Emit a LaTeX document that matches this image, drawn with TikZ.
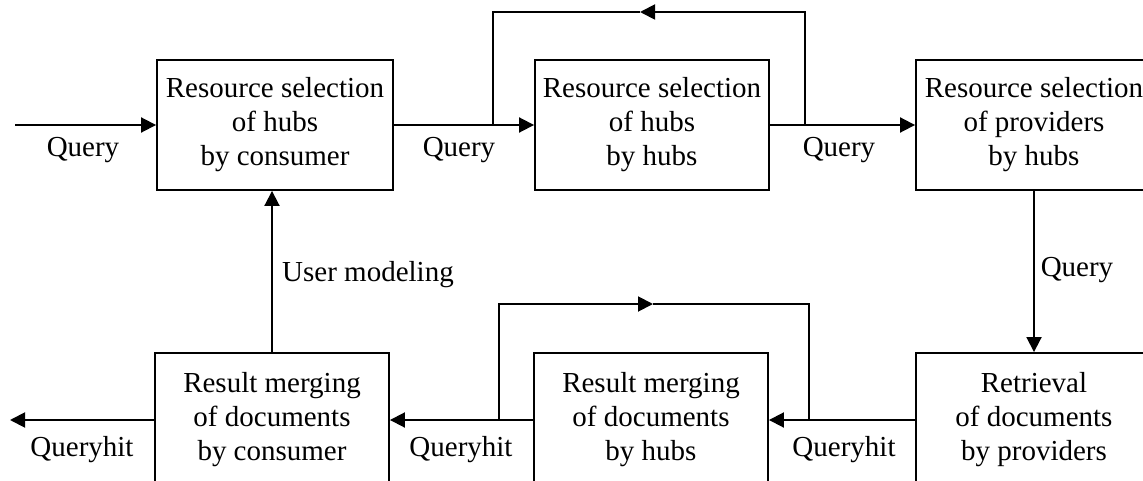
\documentclass[tikz,border=0pt]{standalone}
\usepackage{fontspec}
\setmainfont{Liberation Serif}
\usetikzlibrary{arrows.meta}
\begin{document}
\begin{tikzpicture}[x=1pt,y=-1pt,
  box/.style={draw, line width=1.9pt, minimum width=236pt, minimum height=130pt, align=center, inner sep=0pt, font=\fontsize{29}{34}\selectfont},
  lbl/.style={font=\fontsize{29}{34}\selectfont, inner sep=0pt},
  conn/.style={line width=1.9pt, -{Triangle[length=15pt,width=15pt]}},
  plain/.style={line width=1.9pt}]
\useasboundingbox (0,0) rectangle (1143,481);
\clip (0,0) rectangle (1143,481);
% top row
\node[box] (rsc) at (275,125) {Resource selection\\of hubs\\by consumer};
\node[box, minimum width=234pt] (rsh) at (652,125) {Resource selection\\of hubs\\by hubs};
\node[box] (rsp) at (1034,125) {Resource selection\\of providers\\by hubs};
% bottom row
\node[box, minimum height=134pt] (ret) at (1034,420) {Retrieval\\of documents\\by providers};
\node[box, minimum width=234pt, minimum height=134pt] (rmh) at (651,420) {Result merging\\of documents\\by hubs};
\node[box, minimum width=234pt, minimum height=134pt] (rmc) at (272,420) {Result merging\\of documents\\by consumer};
% coordinates
\coordinate (in) at (15,125);
\coordinate (out) at (10,420);
\coordinate (tl) at (493,125);
\coordinate (tr) at (805,125);
\coordinate (tm) at (640,12);
\coordinate (bl) at (499,420);
\coordinate (br) at (809,420);
\coordinate (bm) at (653,304);
% connectors
\draw[conn] (in) -- (rsc.west);
\draw[conn] (rsc.east) -- (rsh.west);
\draw[conn] (rsh.east) -- (rsp.west);
\draw[conn] (rsp.south) -- (ret.north);
\draw[conn] (ret.west) -- (rmh.east);
\draw[conn] (rmh.west) -- (rmc.east);
\draw[conn] (rmc.west) -- (out);
\draw[conn] (rmc.north) -- (rmc.north |- rsc.south);
\draw[conn] (tr) |- (tm);
\draw[plain] (tm) -| (tl);
\draw[conn] (bl) |- (bm);
\draw[plain] (bm) -| (br);
% labels
\node[lbl] (q1) at (83,150) {Query};
\node[lbl] (q2) at (459,150) {Query};
\node[lbl] (q3) at (839,150) {Query};
\node[lbl] (q4) at (1077,270) {Query};
\node[lbl] (uml) at (368,275) {User modeling};
\node[lbl] (qh1) at (82,450) {Queryhit};
\node[lbl] (qh2) at (461,450) {Queryhit};
\node[lbl] (qh3) at (844,450) {Queryhit};
\end{tikzpicture}
\end{document}
